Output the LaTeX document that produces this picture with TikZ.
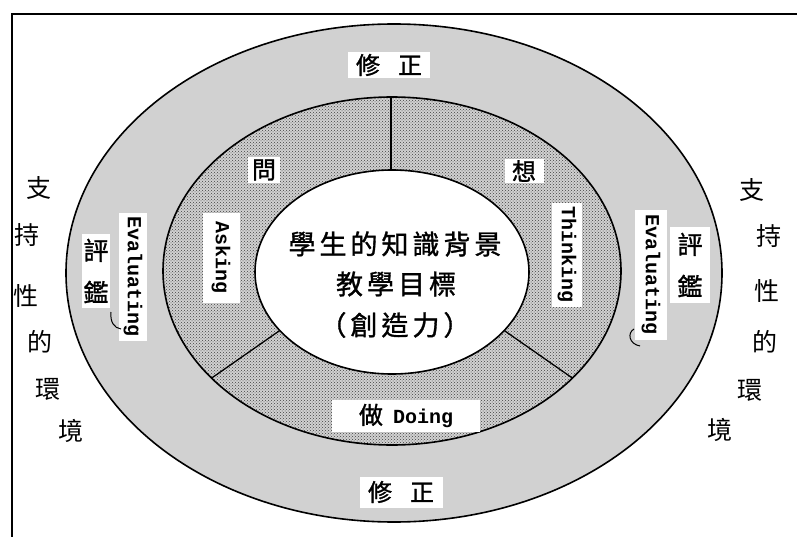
\documentclass[tikz,border=0pt]{standalone}
\usepackage{fontspec}
\newfontfamily\cjk{Noto Sans CJK TC}
\newfontfamily\cjkb{Noto Sans CJK TC}[FakeBold=1.2]
\setmonofont{Liberation Mono}
\usetikzlibrary{patterns,calc}
\newcommand{\cg}{\hspace{4pt}}
\begin{document}
\begin{tikzpicture}[x=1pt,y=-1pt,
  ring/.style={draw=black,line width=1.6pt},
  divline/.style={draw=black,line width=1.3pt},
  zhbox/.style={fill=white,inner sep=0pt,font=\cjkb\fontsize{24}{24}\selectfont},
  enbox/.style={fill=white,inner sep=0pt,rotate=-90,font=\ttfamily\bfseries\fontsize{20}{20}\selectfont},
  pjbox/.style={fill=white,inner sep=0pt,align=center,font=\cjkb\fontsize{25}{42}\selectfont},
  sidech/.style={inner sep=0pt,font=\cjk\fontsize{25}{25}\selectfont},
  centertxt/.style={inner sep=0pt,font=\cjkb\fontsize{27}{27}\selectfont}]
\useasboundingbox (0,0) rectangle (797,537);
% frame
\draw[line width=2pt] (12,537) -- (12,14) -- (797,14);
% rings
\coordinate (co) at (394,273);
\coordinate (cm) at (392,271);
\coordinate (ci) at (392,272);
\path[ring,fill=black!18] (co) ellipse [x radius=328pt, y radius=249pt];
\path[fill=black!18] (cm) ellipse [x radius=229pt, y radius=174pt];
\path[pattern=crosshatch dots,pattern color=black!75] (cm) ellipse [x radius=229pt, y radius=174pt];
\path[ring] (cm) ellipse [x radius=229pt, y radius=174pt];
\path[ring,fill=white] (ci) ellipse [x radius=137pt, y radius=102pt];
% dividers
\coordinate (tA) at (391,97);
\coordinate (tB) at (391,170);
\coordinate (lA) at ($(ci)+(215:137pt and 102pt)$);
\coordinate (lB) at ($(cm)+(218:229pt and 174pt)$);
\coordinate (rA) at ($(ci)+(325:137pt and 102pt)$);
\coordinate (rB) at ($(cm)+(322:229pt and 174pt)$);
\draw[divline] (tA) -- (tB);
\draw[divline] (lA) -- (lB);
\draw[divline] (rA) -- (rB);
% centre text
\node[centertxt] (c1) at (395,244) {學\cg 生\cg 的\cg 知\cg 識\cg 背\cg 景};
\node[centertxt] (c2) at (396,284) {教\cg 學\cg 目\cg 標};
\node[centertxt] (c3) at (395,325) {（\cg 創\cg 造\cg 力\cg ）};
% ring labels
\node[zhbox,minimum width=82pt,minimum height=26pt] (rt) at (389,65) {修\hspace{18pt}正};
\node[zhbox,minimum width=83pt,minimum height=31pt] (rbm) at (401,492) {修\hspace{18pt}正};
\node[zhbox,minimum width=32pt,minimum height=26pt] (ask) at (264,170) {問};
\node[zhbox,minimum width=39pt,minimum height=24pt] (think) at (524,171) {想};
\node[zhbox,minimum width=148pt,minimum height=32pt] (doing) at (406,416) {做\hspace{10pt}{\ttfamily\bfseries\fontsize{20}{20}\selectfont Doing}};
\node[enbox,minimum width=90pt,minimum height=37pt] (asken) at (221,258) {Asking};
\node[enbox,minimum width=104pt,minimum height=30pt] (thinken) at (567,255) {Thinking};
\node[enbox,minimum width=127pt,minimum height=28pt] (evl) at (133,277) {Evaluating};
\node[enbox,minimum width=130pt,minimum height=32pt] (evr) at (651,275) {Evaluating};
\node[pjbox,minimum width=28pt,minimum height=74pt] (pjl) at (96,271) {評\\鑑};
\node[pjbox,minimum width=40pt,minimum height=76pt] (pjr) at (690,265) {評\\鑑};
% small hooks
\draw[line width=1pt] (111,312) .. controls (110,322) and (114,328) .. (121,329);
\draw[line width=1pt] (634,329) .. controls (627,333) and (629,344) .. (640,346);
% side text left
\node[sidech] (l1) at (39,188) {支};
\node[sidech] (l2) at (27,235) {持};
\node[sidech] (l3) at (26,296) {性};
\node[sidech] (l4) at (40,342) {的};
\node[sidech] (l5) at (48,389) {環};
\node[sidech] (l6) at (71,431) {境};
% side text right
\node[sidech] (r1) at (752,190) {支};
\node[sidech] (r2) at (769,236) {持};
\node[sidech] (r3) at (767,291) {性};
\node[sidech] (r4) at (765,342) {的};
\node[sidech] (r5) at (750,390) {環};
\node[sidech] (r6) at (720,430) {境};
\end{tikzpicture}
\end{document}
